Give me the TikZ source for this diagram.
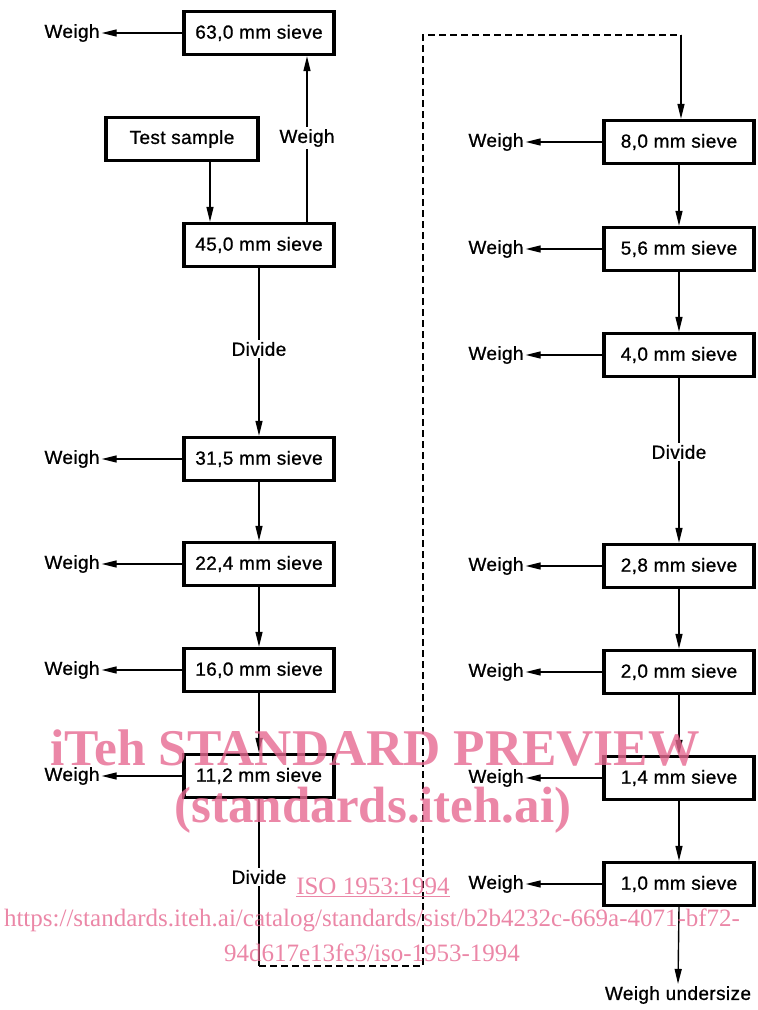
\documentclass[tikz,border=0pt]{standalone}
\usepackage{fontspec}
\setmainfont{Liberation Sans}[LetterSpace=2,FakeBold=0.8]
\newfontfamily\wmfont{Liberation Serif}
\usetikzlibrary{arrows.meta}
\definecolor{wm}{RGB}{230,105,145}
\tikzset{
  sbox/.style={draw, line width=3.4pt, minimum width=150pt, minimum height=43pt, inner sep=0pt, font=\fontsize{19}{22}\selectfont},
  lbl/.style={inner sep=2pt, font=\fontsize{19}{22}\selectfont},
  conn/.style={line width=1.4pt},
  arr/.style={line width=1.4pt, -{Triangle[length=15pt,width=7pt]}},
  dsh/.style={line width=1.4pt, dash pattern=on 7pt off 4pt},
  wmtext/.style={text=wm, text opacity=0.8, inner sep=0pt}
}
\begin{document}
\begin{tikzpicture}[x=1pt,y=-1pt]
\useasboundingbox (0,0) rectangle (758,1010);
% left column
\node[sbox] (b63) at (259,33) {63,0 mm sieve};
\node[sbox, minimum width=152pt] (ts) at (182,139) {Test sample};
\node[sbox] (b45) at (259,245) {45,0 mm sieve};
\node[lbl] (d1) at (259,349) {Divide};
\node[sbox] (b315) at (259,459) {31,5 mm sieve};
\node[sbox] (b224) at (259,564) {22,4 mm sieve};
\node[sbox] (b160) at (259,670) {16,0 mm sieve};
\node[sbox] (b112) at (259,776) {11,2 mm sieve};
\node[lbl] (d2) at (259,877) {Divide};
\node[lbl] (w63) at (72,33) {Weigh};
\node[lbl] (wup) at (307,138) {Weigh};
\node[lbl] (w315) at (72,459) {Weigh};
\node[lbl] (w224) at (72,564) {Weigh};
\node[lbl] (w160) at (72,670) {Weigh};
\node[lbl] (w112) at (72,776) {Weigh};
% right column
\node[sbox] (b80) at (679,142) {8,0 mm sieve};
\node[sbox] (b56) at (679,249) {5,6 mm sieve};
\node[sbox] (b40) at (679,355) {4,0 mm sieve};
\node[lbl] (d3) at (679,452) {Divide};
\node[sbox] (b28) at (679,566) {2,8 mm sieve};
\node[sbox] (b20) at (679,672) {2,0 mm sieve};
\node[sbox] (b14) at (679,778) {1,4 mm sieve};
\node[sbox] (b10) at (679,884) {1,0 mm sieve};
\node[lbl] (und) at (678,995) {Weigh undersize};
\node[lbl] (w80) at (496,142) {Weigh};
\node[lbl] (w56) at (496,249) {Weigh};
\node[lbl] (w40) at (496,355) {Weigh};
\node[lbl] (w28) at (496,566) {Weigh};
\node[lbl] (w20) at (496,672) {Weigh};
\node[lbl] (w14) at (496,778) {Weigh};
\node[lbl] (w10) at (496,884) {Weigh};
% coordinates
\coordinate (c1) at (259,966);
\coordinate (c2) at (423,966);
\coordinate (c3) at (423,35);
\coordinate (c4) at (681,35);
% left connectors
\draw[arr] (b63.west) -- (w63.east);
\draw[arr] (ts.south -| 210,0) -- (b45.north -| 210,0);
\draw[conn] (b45.north -| wup.south) -- (wup.south);
\draw[arr] (wup.north) -- (b63.south -| wup.north);
\draw[conn] (b45.south) -- (d1.north);
\draw[arr] (d1.south) -- (b315.north);
\draw[arr] (b315.south) -- (b224.north);
\draw[arr] (b224.south) -- (b160.north);
\draw[arr] (b160.south) -- (b112.north);
\draw[arr] (b315.west) -- (w315.east);
\draw[arr] (b224.west) -- (w224.east);
\draw[arr] (b160.west) -- (w160.east);
\draw[arr] (b112.west) -- (w112.east);
\draw[conn] (b112.south) -- (d2.north);
\draw[conn] (d2.south) -- (c1);
\draw[dsh] (c1) -- (c2) -- (c3) -- (c4);
\draw[arr] (c4) -- (b80.north -| c4);
% right connectors
\draw[arr] (b80.south) -- (b56.north);
\draw[arr] (b56.south) -- (b40.north);
\draw[conn] (b40.south) -- (d3.north);
\draw[arr] (d3.south) -- (b28.north);
\draw[arr] (b28.south) -- (b20.north);
\draw[arr] (b20.south) -- (b14.north);
\draw[arr] (b14.south) -- (b10.north);
\draw[arr] (b10.south) -- (und.north);
\draw[arr] (b80.west) -- (w80.east);
\draw[arr] (b56.west) -- (w56.east);
\draw[arr] (b40.west) -- (w40.east);
\draw[arr] (b28.west) -- (w28.east);
\draw[arr] (b20.west) -- (w20.east);
\draw[arr] (b14.west) -- (w14.east);
\draw[arr] (b10.west) -- (w10.east);
% watermark
\node[wmtext, font=\wmfont\bfseries\fontsize{51.5}{52}\selectfont] (wm1) at (375,748) {iTeh STANDARD PREVIEW};
\node[wmtext, font=\wmfont\bfseries\fontsize{51}{52}\selectfont] (wm2) at (373,810) {(standards.iteh.ai)};
\node[wmtext, font=\wmfont\fontsize{25}{25}\selectfont] (wm3) at (373,887) {\underline{ISO 1953:1994}};
\node[wmtext, font=\wmfont\fontsize{25}{25}\selectfont] (wm4) at (372,920) {https://standards.iteh.ai/catalog/standards/sist/b2b4232c-669a-4071-bf72-};
\node[wmtext, font=\wmfont\fontsize{25}{25}\selectfont] (wm5) at (372,953) {94d617e13fe3/iso-1953-1994};
\end{tikzpicture}
\end{document}
